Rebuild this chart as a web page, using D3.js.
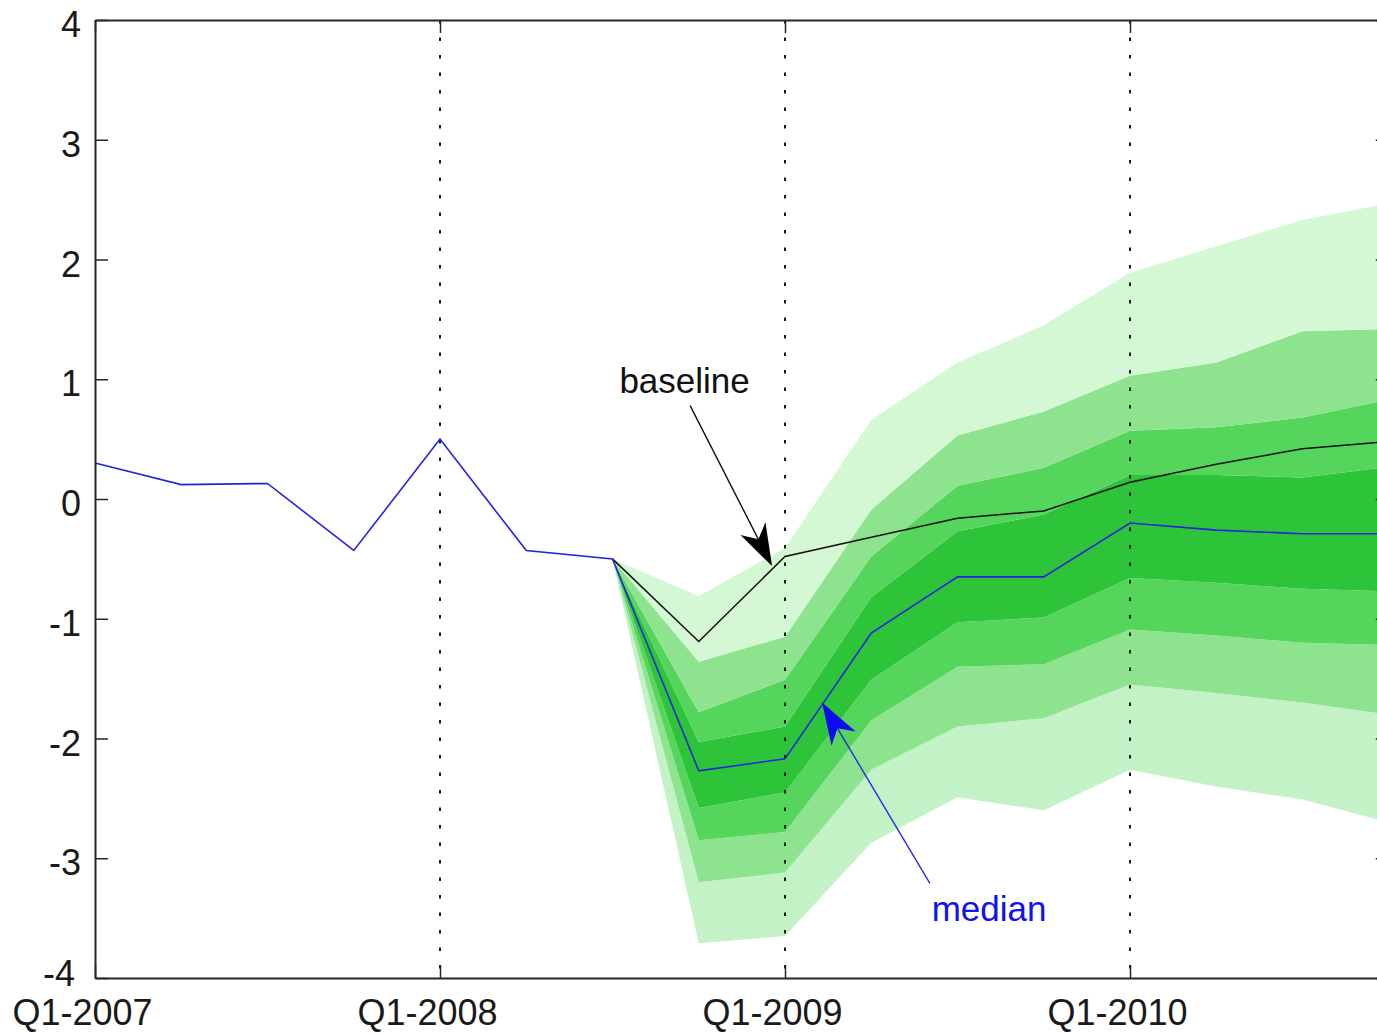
<!DOCTYPE html>
<html>
<head>
<meta charset="utf-8">
<script src="https://cdn.jsdelivr.net/npm/d3@7"></script>
<style>
  html, body { margin: 0; padding: 0; background: #fff; }
  svg { display: block; font-family: "Liberation Sans", Arial, Helvetica, sans-serif; }
</style>
</head>
<body>
<svg id="chart" width="1377" height="1034"></svg>
<script>
// Quarterly axis, Q1-2007 .. Q4-2010 (index 0..15)
const quarters = [
  "Q1-2007", "Q2-2007", "Q3-2007", "Q4-2007",
  "Q1-2008", "Q2-2008", "Q3-2008", "Q4-2008",
  "Q1-2009", "Q2-2009", "Q3-2009", "Q4-2009",
  "Q1-2010", "Q2-2010", "Q3-2010", "Q4-2010"
];
const xTickQuarters = [0, 4, 8, 12];
const yTicks = [-4, -3, -2, -1, 0, 1, 2, 3, 4];

// Observed history (Q1-2007 .. Q3-2008)
const history = [0.30, 0.12, 0.13, -0.43, 0.50, -0.43, -0.50];

// Forecast period starts at Q3-2008 (index 6)
const forecastStart = 6;
const median   = [-0.50, -2.27, -2.17, -1.12, -0.65, -0.65, -0.20, -0.26, -0.29, -0.29];
const baseline = [-0.50, -1.19, -0.48, -0.32, -0.16, -0.10, 0.14, 0.29, 0.42, 0.48];

// Fan chart quantile bounds
const q05 = [-0.50, -3.71, -3.65, -2.87, -2.49, -2.60, -2.26, -2.40, -2.51, -2.70];
const q10 = [-0.50, -3.20, -3.12, -2.26, -1.90, -1.83, -1.55, -1.62, -1.70, -1.80];
const q20 = [-0.50, -2.85, -2.78, -1.85, -1.40, -1.38, -1.09, -1.14, -1.20, -1.22];
const q30 = [-0.50, -2.58, -2.45, -1.51, -1.03, -0.99, -0.66, -0.70, -0.75, -0.77];
const q70 = [-0.50, -2.03, -1.90, -0.82, -0.27, -0.13, 0.20, 0.20, 0.18, 0.27];
const q80 = [-0.50, -1.78, -1.51, -0.48, 0.11, 0.26, 0.57, 0.60, 0.68, 0.83];
const q90 = [-0.50, -1.36, -1.15, -0.09, 0.53, 0.73, 1.03, 1.14, 1.40, 1.42];
const q95 = [-0.50, -0.81, -0.41, 0.66, 1.14, 1.45, 1.89, 2.11, 2.33, 2.47];

const bands = [
  { lo: q05, hi: q10, color: "#c2f2c6" },
  { lo: q10, hi: q20, color: "#8ee38f" },
  { lo: q20, hi: q30, color: "#55d55b" },
  { lo: q30, hi: q70, color: "#2ec43a" },
  { lo: q70, hi: q80, color: "#55d55b" },
  { lo: q80, hi: q90, color: "#8ee38f" },
  { lo: q90, hi: q95, color: "#d4f8d4" }
];

// Annotations, in data units (quarter index, value)
const annotations = [
  { text: "baseline", tx: 6.08, ty: 0.99, from: [6.90, 0.78], to: [7.85, -0.56], line: "#111111", head: "#000000", fill: "#111111" },
  { text: "median",   tx: 9.70, ty: -3.42, from: [9.68, -3.21], to: [8.43, -1.70], line: "#2a2ae0", head: "#0a0af5", fill: "#1010f0" }
];

const svg = d3.select("#chart");
const plotLeft = 95, plotRight = 1388.75, plotTop = 20, plotBottom = 978;

const x = d3.scaleLinear().domain([0, quarters.length - 1]).range([plotLeft, plotRight]);
const y = d3.scaleLinear().domain([-4, 4]).range([plotBottom, plotTop]);

svg.append("rect").attr("width", 1377).attr("height", 1034).attr("fill", "#fff");

// Fan bands
const idx = d3.range(forecastStart, quarters.length);
bands.forEach(b => {
  const area = d3.area()
    .x((d, i) => x(idx[i]))
    .y0((d, i) => y(b.lo[i]))
    .y1((d, i) => y(b.hi[i]));
  svg.append("path").datum(idx).attr("d", area).attr("fill", b.color);
});

// Dotted vertical grid at each Q1
svg.append("g").selectAll("line").data(xTickQuarters.slice(1)).join("line")
  .attr("x1", d => x(d)).attr("x2", d => x(d))
  .attr("y1", plotTop).attr("y2", plotBottom)
  .attr("stroke", "#000").attr("stroke-width", 1.8)
  .attr("stroke-dasharray", "3.5,14");

const line = d3.line().x(d => x(d[0])).y(d => y(d[1]));

// Baseline scenario
svg.append("path")
  .datum(baseline.map((v, i) => [forecastStart + i, v]))
  .attr("d", line).attr("fill", "none")
  .attr("stroke", "#111").attr("stroke-width", 1.5);

// History + median forecast
const bluePts = history.map((v, i) => [i, v])
  .concat(median.slice(1).map((v, i) => [forecastStart + 1 + i, v]));
svg.append("path")
  .datum(bluePts)
  .attr("d", line).attr("fill", "none")
  .attr("stroke", "#2424dc").attr("stroke-width", 1.6);

// Axes (box with inward ticks)
const axisColor = "#262626";
const yl = svg.append("g").attr("transform", `translate(${plotLeft},0)`)
  .call(d3.axisLeft(y).tickValues(yTicks).tickSize(-13).tickSizeOuter(0).tickPadding(14).tickFormat(d => String(d)));
const yr = svg.append("g").attr("transform", `translate(${plotRight},0)`)
  .call(d3.axisRight(y).tickValues(yTicks).tickSize(-13).tickSizeOuter(0).tickFormat(""));
const xb = svg.append("g").attr("transform", `translate(0,${plotBottom})`)
  .call(d3.axisBottom(x).tickValues(xTickQuarters).tickSize(-13).tickSizeOuter(0).tickPadding(21).tickFormat(i => quarters[i]));
const xt = svg.append("g").attr("transform", `translate(0,${plotTop})`)
  .call(d3.axisTop(x).tickValues(xTickQuarters).tickSize(-13).tickSizeOuter(0).tickFormat(""));

[yl, yr, xb, xt].forEach(g => {
  g.select(".domain").attr("stroke", axisColor).attr("stroke-width", 2);
  g.selectAll(".tick line").attr("stroke", axisColor).attr("stroke-width", 1.5);
  g.selectAll("text").attr("fill", "#1a1a1a").attr("font-size", 36)
    .attr("font-family", "'Liberation Sans', Arial, Helvetica, sans-serif");
});
yl.selectAll("text").attr("dy", "0.46em");
// lowest label sits a little higher and further left, clear of the date labels
yl.selectAll(".tick").filter(d => d === -4).select("text").attr("dy", "0.2em").attr("dx", -6);
xb.selectAll("text").attr("dx", -13);

// Annotations with arrows
annotations.forEach(a => {
  const x0 = x(a.from[0]), y0 = y(a.from[1]);
  const x1 = x(a.to[0]), y1 = y(a.to[1]);
  const ang = Math.atan2(y1 - y0, x1 - x0);
  const L = 42, W = 14, N = 30;
  const ux = Math.cos(ang), uy = Math.sin(ang);
  const px = -uy, py = ux;
  svg.append("line")
    .attr("x1", x0).attr("y1", y0)
    .attr("x2", x1 - ux * N).attr("y2", y1 - uy * N)
    .attr("stroke", a.line).attr("stroke-width", 1.4);
  const pts = [
    [x1, y1],
    [x1 - ux * L + px * W, y1 - uy * L + py * W],
    [x1 - ux * N, y1 - uy * N],
    [x1 - ux * L - px * W, y1 - uy * L - py * W]
  ];
  svg.append("path").attr("d", "M" + pts.map(p => p.join(",")).join("L") + "Z").attr("fill", a.head);
  svg.append("text")
    .attr("x", x(a.tx)).attr("y", y(a.ty))
    .attr("dy", "0.35em")
    .attr("font-size", 35)
    .attr("fill", a.fill)
    .text(a.text);
});
</script>
</body>
</html>
